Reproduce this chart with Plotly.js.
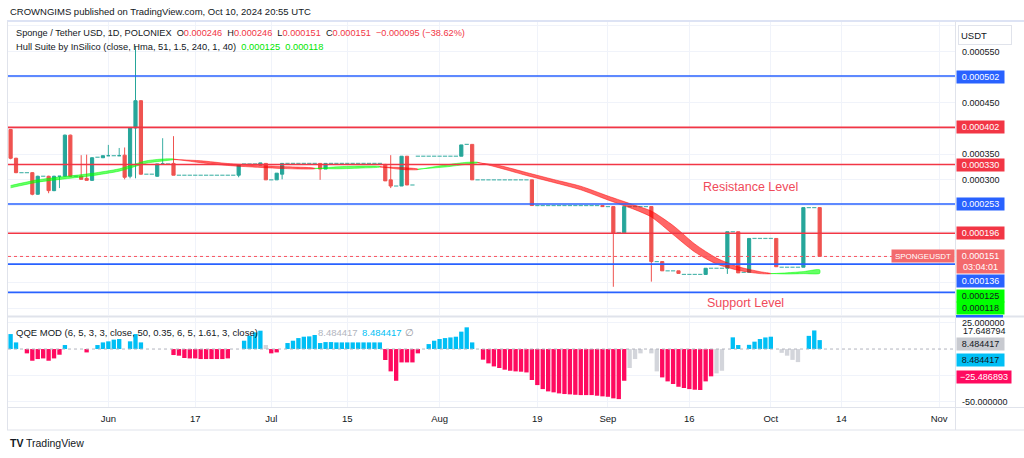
<!DOCTYPE html>
<html>
<head>
<meta charset="utf-8">
<script src="https://cdn.plot.ly/plotly-3.0.1.min.js"></script>
<style>
  html, body { margin: 0; padding: 0; background: #fff; }
  #chart { width: 1024px; height: 458px; }
</style>
</head>
<body>
<div id="chart"></div>
<script>
// daily bars from 14 May 2024, bar index 0 .. 149 (10 Oct)
const barTicks = [18, 34, 48, 62, 79, 97, 110, 125, 140, 153, 171];
const barTickLabels = ['Jun', '17', 'Jul', '15', 'Aug', '19', 'Sep', '16', 'Oct', '14', 'Nov'];

const open = [
  398e-6,342e-6,314e-6,314e-6,314e-6,272e-6,307e-6,307e-6,279e-6,307e-6,
  307e-6,387e-6,307e-6,307e-6,303e-6,299e-6,344e-6,343e-6,347e-6,347e-6,
  347e-6,348e-6,307e-6,401e-6,454e-6,311e-6,311e-6,307e-6,331e-6,331e-6,
  332e-6,309e-6,309e-6,309e-6,309e-6,309e-6,309e-6,309e-6,309e-6,309e-6,
  309e-6,309e-6,309e-6,331e-6,331e-6,331e-6,329e-6,332e-6,300e-6,300e-6,
  311e-6,332e-6,332e-6,332e-6,332e-6,332e-6,332e-6,332e-6,321e-6,332e-6,
  332e-6,332e-6,332e-6,332e-6,332e-6,332e-6,332e-6,332e-6,332e-6,330e-6,
  300e-6,288e-6,288e-6,346e-6,290e-6,346e-6,346e-6,346e-6,346e-6,346e-6,
  346e-6,346e-6,346e-6,346e-6,369e-6,369e-6,300e-6,300e-6,300e-6,300e-6,
  300e-6,300e-6,300e-6,300e-6,300e-6,300e-6,300e-6,250e-6,250e-6,250e-6,
  250e-6,250e-6,250e-6,250e-6,250e-6,250e-6,250e-6,250e-6,250e-6,250e-6,
  248e-6,248e-6,197e-6,197e-6,248e-6,248e-6,248e-6,248e-6,248e-6,141e-6,
  141e-6,123e-6,123e-6,123e-6,116e-6,116e-6,116e-6,116e-6,116e-6,128e-6,
  128e-6,128e-6,128e-6,199e-6,199e-6,120e-6,120e-6,186e-6,186e-6,186e-6,
  186e-6,186e-6,130e-6,130e-6,130e-6,130e-6,130e-6,246e-6,246e-6,246e-6];
const high = [
  399e-6,343e-6,314e-6,314e-6,315e-6,308e-6,307e-6,308e-6,308e-6,307e-6,
  388e-6,388e-6,307e-6,348e-6,349e-6,344e-6,344e-6,347e-6,368e-6,347e-6,
  362e-6,363e-6,401e-6,560e-6,455e-6,311e-6,311e-6,331e-6,381e-6,331e-6,
  385e-6,309e-6,309e-6,309e-6,309e-6,309e-6,309e-6,309e-6,309e-6,309e-6,
  309e-6,309e-6,329e-6,331e-6,331e-6,331e-6,333e-6,332e-6,300e-6,313e-6,
  332e-6,332e-6,332e-6,332e-6,332e-6,332e-6,332e-6,332e-6,332e-6,332e-6,
  332e-6,332e-6,332e-6,332e-6,332e-6,332e-6,332e-6,332e-6,332e-6,331e-6,
  348e-6,288e-6,346e-6,346e-6,290e-6,346e-6,346e-6,346e-6,346e-6,346e-6,
  346e-6,346e-6,346e-6,368e-6,369e-6,369e-6,300e-6,300e-6,300e-6,300e-6,
  300e-6,300e-6,300e-6,300e-6,300e-6,300e-6,300e-6,250e-6,250e-6,250e-6,
  250e-6,250e-6,250e-6,250e-6,250e-6,250e-6,250e-6,250e-6,250e-6,250e-6,
  248e-6,248e-6,197e-6,248e-6,248e-6,248e-6,248e-6,248e-6,248e-6,141e-6,
  141e-6,123e-6,123e-6,123e-6,116e-6,116e-6,116e-6,116e-6,128e-6,128e-6,
  128e-6,128e-6,199e-6,199e-6,199e-6,120e-6,186e-6,186e-6,186e-6,186e-6,
  186e-6,186e-6,130e-6,130e-6,130e-6,130e-6,246e-6,246e-6,246e-6,246e-6];
const low = [
  340e-6,313e-6,314e-6,314e-6,270e-6,271e-6,307e-6,274e-6,278e-6,284e-6,
  306e-6,306e-6,307e-6,301e-6,299e-6,298e-6,344e-6,343e-6,347e-6,347e-6,
  347e-6,301e-6,303e-6,303e-6,310e-6,311e-6,311e-6,306e-6,331e-6,331e-6,
  309e-6,309e-6,309e-6,309e-6,309e-6,309e-6,309e-6,309e-6,309e-6,309e-6,
  309e-6,309e-6,305e-6,331e-6,331e-6,331e-6,329e-6,300e-6,300e-6,300e-6,
  301e-6,332e-6,332e-6,332e-6,332e-6,332e-6,332e-6,300e-6,321e-6,332e-6,
  332e-6,332e-6,332e-6,332e-6,332e-6,332e-6,332e-6,332e-6,332e-6,298e-6,
  284e-6,288e-6,288e-6,290e-6,290e-6,346e-6,346e-6,346e-6,346e-6,346e-6,
  346e-6,346e-6,346e-6,346e-6,369e-6,300e-6,300e-6,300e-6,300e-6,300e-6,
  300e-6,300e-6,300e-6,300e-6,300e-6,300e-6,250e-6,250e-6,250e-6,250e-6,
  250e-6,250e-6,250e-6,250e-6,250e-6,250e-6,250e-6,250e-6,250e-6,248e-6,
  248e-6,92e-6,197e-6,197e-6,248e-6,248e-6,248e-6,248e-6,102e-6,141e-6,
  123e-6,123e-6,123e-6,118e-6,116e-6,116e-6,116e-6,116e-6,116e-6,128e-6,
  128e-6,128e-6,117e-6,199e-6,119e-6,120e-6,120e-6,186e-6,186e-6,186e-6,
  186e-6,131e-6,130e-6,130e-6,130e-6,130e-6,130e-6,246e-6,246e-6,151e-6];
const close = [
  342e-6,314e-6,314e-6,314e-6,272e-6,307e-6,307e-6,279e-6,307e-6,307e-6,
  387e-6,307e-6,307e-6,301e-6,299e-6,343e-6,344e-6,347e-6,347e-6,347e-6,
  347e-6,305e-6,401e-6,454e-6,311e-6,311e-6,311e-6,331e-6,331e-6,331e-6,
  309e-6,309e-6,309e-6,309e-6,309e-6,309e-6,309e-6,309e-6,309e-6,309e-6,
  309e-6,309e-6,329e-6,331e-6,331e-6,331e-6,333e-6,300e-6,300e-6,313e-6,
  332e-6,332e-6,332e-6,332e-6,332e-6,332e-6,332e-6,321e-6,332e-6,332e-6,
  332e-6,332e-6,332e-6,332e-6,332e-6,332e-6,332e-6,332e-6,332e-6,298e-6,
  288e-6,288e-6,346e-6,290e-6,290e-6,346e-6,346e-6,346e-6,346e-6,346e-6,
  346e-6,346e-6,346e-6,368e-6,369e-6,300e-6,300e-6,300e-6,300e-6,300e-6,
  300e-6,300e-6,300e-6,300e-6,300e-6,300e-6,250e-6,250e-6,250e-6,250e-6,
  250e-6,250e-6,250e-6,250e-6,250e-6,250e-6,250e-6,250e-6,250e-6,248e-6,
  248e-6,197e-6,197e-6,248e-6,248e-6,248e-6,248e-6,248e-6,141e-6,141e-6,
  123e-6,123e-6,123e-6,118e-6,116e-6,116e-6,116e-6,116e-6,128e-6,128e-6,
  128e-6,128e-6,199e-6,199e-6,119e-6,120e-6,186e-6,186e-6,186e-6,186e-6,
  186e-6,131e-6,130e-6,130e-6,130e-6,130e-6,246e-6,246e-6,246e-6,151e-6];

// Hull Suite band: hull and its 2-bar lag, sampled on these bars
const hullDay = [0,5,10,15,20,25,28,30,35,40,45,50,56,60,65,68,72,75,80,84,86,90,95,100,105,110,115,118,122,126,130,134,138,140,143,146,149];
const hullA = [289.0e-6,300.1e-6,306.5e-6,312.7e-6,321.5e-6,337.0e-6,340.5e-6,340.5e-6,333.4e-6,328.0e-6,324.7e-6,322.1e-6,321.6e-6,325.3e-6,326.9e-6,325.9e-6,320.2e-6,320.0e-6,328.8e-6,334.1e-6,334.2e-6,323.3e-6,308.5e-6,294.9e-6,280.6e-6,260.8e-6,241.9e-6,227.7e-6,193.6e-6,159.6e-6,136.3e-6,124.0e-6,117.6e-6,117.4e-6,119.2e-6,121.5e-6,125.0e-6];
const hullB = [284.4e-6,295.5e-6,301.9e-6,308.1e-6,316.9e-6,332.4e-6,336.7e-6,339.5e-6,337.2e-6,331.8e-6,328.5e-6,325.9e-6,322.6e-6,321.5e-6,323.1e-6,324.9e-6,324.0e-6,321.0e-6,325.0e-6,330.3e-6,333.2e-6,327.9e-6,314.3e-6,300.7e-6,287.6e-6,268.6e-6,250.5e-6,239.3e-6,211.2e-6,175.2e-6,147.9e-6,131.0e-6,121.4e-6,117.8e-6,116.8e-6,117.5e-6,118.0e-6];
const hullTurns = [0, 30, 56, 68, 75, 86, 140, 149];   // green, red, green, ...

const resistanceLevels = [402e-6, 330e-6, 196e-6];
const supportLevels = [502e-6, 253e-6, 136e-6, 81e-6];

// QQE MOD histogram, one value per bar
const qqe = [
  14.2, 6.3, null, -4.1, -11.1, -9.5, -8.9, -11.1, -8.9, -5.4,
  3.8, null, null, null, -3.2, null, 3.8, 6.3, 7.3, 8.9,
  9.5, null, 7.3, 14.2, 6.3, null, null, null, null, null,
  -5.7, -6.3, -8.5, -8.9, -8.9, -9.5, -9.5, -9.5, -9.5, -9.5,
  -8.9, null, null, 7.9, 12.7, 15.8, 17.4, 3.8, -4.1, -3.2,
  null, 5.7, 7.9, 10.4, 11.7, 12, 13.3, 5.7, 6.6, 6.6,
  6.3, 6.3, 6.3, 6.3, 6.3, 6.3, 6.3, 6.3, 6.3, -10.4,
  -21.2, -30.1, -12.7, -12.7, -12.7, -4.1, null, 4.7, 7.9, 9.5,
  10.4, 11, 11.7, 16.5, 20.6, 6.3, null, -10.1, -13.6, -16.5,
  -18, -19.6, -20.6, -21.2, -21.5, -22.2, -29.4, -34.2, -38, -40.2,
  -41.1, -42.1, -42.7, -43, -43.4, -43.7, -43.7, -43.7, -44.3, -44.9,
  -45.3, -46.8, -47.5, -30.1, -18, -9.5, -4.1, null, -4.1, -21.2,
  -26.9, -30.7, -33.2, -35.8, -37, -38, -38.6, -38.9, -30.7, -25.9,
  -23.1, -20.6, null, 11.1, 3.8, null, 4, 7, 9.5, 11,
  11.7, null, -3.6, -6.3, -10.3, -12.4, null, 12.5, 17.65, 8.484417];
const qqeGrey = [47, 114, 115, 116, 118, 119, 130, 131, 142, 143, 144, 145];
const qqeLineValues = [17.648794, -25.486893];

const priceTicks = [600e-6, 550e-6, 500e-6, 450e-6, 400e-6, 350e-6, 300e-6, 250e-6, 200e-6, 150e-6, 100e-6, 50e-6];
const priceTickText = ['', '0.000550', '', '0.000450', '', '0.000350', '0.000300', '', '', '', '', ''];
const qqeTicks = [25, -25, -50];
const qqeTickText = ['25.000000', '', '-50.000000'];

const FONT = '"Liberation Sans", Arial, sans-serif';
const INK = '#131722';
const TEAL = '#26a69a', CRED = '#ef5350';
const BLUE = '#2962ff', LRED = '#f23645';

// plot area in page pixels, for placing the TradingView furniture
const L = 8, T = 22, W = 947, H = 385;
const px = x => (x - L) / W;
const py = y => (T + H - y) / H;

function drawChart() {
  const bars = open.map((_, i) => i);
  const real = bars.filter(i => open[i] !== close[i]);
  // flat bars: dojis that still have a wick, and bare single-price bars
  const doji = bars.filter(i => open[i] === close[i] && high[i] !== low[i]);
  const bare = bars.filter(i => open[i] === close[i] && high[i] === low[i]);
  const pick = (arr, idx) => idx.map(i => arr[i]);
  const last = open.length - 1;
  const flatTeal = 'rgba(38,166,154,0.9)';

  const traces = [
    {
      type: 'candlestick', x: real,
      open: pick(open, real), high: pick(high, real), low: pick(low, real), close: pick(close, real),
      increasing: { line: { color: TEAL, width: 1 }, fillcolor: TEAL },
      decreasing: { line: { color: CRED, width: 1 }, fillcolor: CRED },
      whiskerwidth: 0, hoverinfo: 'skip'
    },
    {
      type: 'candlestick', x: doji,
      open: pick(open, doji), high: pick(high, doji), low: pick(low, doji), close: pick(close, doji),
      increasing: { line: { color: flatTeal, width: 1 }, fillcolor: TEAL },
      decreasing: { line: { color: flatTeal, width: 1 }, fillcolor: TEAL },
      whiskerwidth: 0, hoverinfo: 'skip'
    },
    {
      type: 'scatter', mode: 'markers', x: bare, y: pick(close, bare),
      marker: { symbol: 'line-ew', size: 3, line: { color: 'rgba(38,166,154,0.8)', width: 1.2 } },
      hoverinfo: 'skip'
    }
  ];

  for (let k = 0; k < hullTurns.length - 1; k++) {
    const s = hullDay.indexOf(hullTurns[k]);
    const e = hullDay.indexOf(hullTurns[k + 1]);
    const xs = hullDay.slice(s, e + 1);
    const col = k % 2 === 0 ? 'rgba(0,255,0,0.6)' : 'rgba(255,0,0,0.6)';
    traces.push({
      type: 'scatter', mode: 'lines',
      x: xs.concat(xs.slice().reverse()),
      y: hullA.slice(s, e + 1).concat(hullB.slice(s, e + 1).reverse()),
      fill: 'toself', fillcolor: col,
      line: { color: col, width: 0.8, shape: 'spline', smoothing: 0.7 },
      hoverinfo: 'skip'
    });
  }

  traces.push({
    type: 'bar', x: bars, y: qqe, yaxis: 'y2', width: 0.8,
    marker: {
      color: qqe.map((v, i) => qqeGrey.includes(i) ? '#d3d5db' : (v >= 0 ? '#00bff5' : '#ff0a5f')),
      line: { width: 0 }
    },
    hoverinfo: 'skip'
  });

  const shapes = [];
  supportLevels.forEach(v => shapes.push({ type: 'line', xref: 'paper', yref: 'y', x0: 0, x1: 1, y0: v, y1: v, line: { color: BLUE, width: 1.6 } }));
  resistanceLevels.forEach(v => shapes.push({ type: 'line', xref: 'paper', yref: 'y', x0: 0, x1: 1, y0: v, y1: v, line: { color: LRED, width: 1.6 } }));
  shapes.push({ type: 'line', xref: 'paper', yref: 'y', x0: 0, x1: 1, y0: close[last], y1: close[last], line: { color: '#f7525f', width: 1, dash: 'dot' } });
  shapes.push({ type: 'line', xref: 'paper', yref: 'y2', x0: 0, x1: 1, y0: 0, y1: 0, line: { color: '#b2b5be', width: 1, dash: 'dot' } });

  // TradingView frame
  const frame = '#e0e3eb';
  const hline = (y, x0, x1, c, w) => ({ type: 'line', xref: 'paper', yref: 'paper', x0: px(x0), x1: px(x1), y0: py(y), y1: py(y), line: { color: c, width: w } });
  const vline = (x, y0, y1, c, w) => ({ type: 'line', xref: 'paper', yref: 'paper', x0: px(x), x1: px(x), y0: py(y0), y1: py(y1), line: { color: c, width: w } });
  shapes.push(hline(21, 7, 1024, '#d2daf0', 1.5));
  shapes.push(vline(7.5, 21, 430, frame, 1));
  shapes.push(vline(955.5, 21, 430, frame, 1));
  shapes.push(hline(316.5, 7, 1024, frame, 2));
  shapes.push(hline(407.5, 7, 1024, frame, 1));
  shapes.push(hline(430, 7, 1024, frame, 1));
  shapes.push({ type: 'rect', xref: 'paper', yref: 'paper', x0: px(956), x1: px(1003), y0: py(317.5), y1: py(315), fillcolor: BLUE, line: { width: 0 } });

  const ann = [];
  const text = (x, y, t, size, color, anchor) => ann.push({
    xref: 'paper', yref: 'paper', x: px(x), y: py(y), xanchor: anchor || 'left', yanchor: 'middle',
    text: t, showarrow: false, font: { family: FONT, size: size, color: color || INK }
  });
  const f6 = v => v.toFixed(6);
  const sp = '\u00a0\u00a0';
  const red = t => '<span style="color:#f23645">' + t + '</span>';
  const green = t => '<span style="color:#00e600">' + t + '</span>';

  text(8, 12, 'CROWNGIMS published on TradingView.com, Oct 10, 2024 20:55 UTC', 9.5);
  const chg = close[last] - close[last - 1];
  const pct = chg / close[last - 1] * 100;
  text(14, 33.5, 'Sponge / Tether USD, 1D, POLONIEX' + sp + 'O' + red(f6(open[last])) + sp + 'H' + red(f6(high[last])) +
    sp + 'L' + red(f6(low[last])) + sp + 'C' + red(f6(close[last])) + sp +
    red('\u2212' + f6(-chg) + ' (\u2212' + (-pct).toFixed(2) + '%)'), 9.2);
  text(14, 46.7, 'Hull Suite by InSilico (close, Hma, 51, 1.5, 240, 1, 40)' + sp +
    green(f6(hullA[hullA.length - 1])) + sp + green(f6(hullB[hullB.length - 1])), 9.3);
  text(14, 332.7, 'QQE MOD (6, 5, 3, 3, close, 50, 0.35, 6, 5, 1.61, 3, close)', 9.5);
  text(316, 332.7, f6(qqe[last]), 9.5, '#b2b5be');
  text(360, 332.7, f6(qqe[last]), 9.5, '#00bff5');
  text(403, 332.7, '\u2205', 10, '#9598a1');
  text(750, 186.7, 'Resistance Level', 12.5, '#f04a5a', 'center');
  text(745, 303, 'Support Level', 12.5, '#f04a5a', 'center');
  text(8, 443, '<b>TV</b>', 10.5, INK);
  text(24, 443, 'TradingView', 10.5, INK);

  // price scale labels
  const box = (yref, v, shift, bg, color, t, w, h) => ann.push({
    xref: 'paper', yref: yref, x: px(956), y: v, yshift: shift, xanchor: 'left', yanchor: 'middle',
    text: t, showarrow: false, bgcolor: bg, borderpad: 1, width: w || 45, height: h || 10,
    font: { family: FONT, size: 9, color: color || '#fff' }
  });
  box('y', supportLevels[0], -1, BLUE, '#fff', f6(supportLevels[0]));
  box('y', resistanceLevels[0], 0, LRED, '#fff', f6(resistanceLevels[0]));
  box('y', resistanceLevels[1], -0.5, LRED, '#fff', f6(resistanceLevels[1]));
  box('y', supportLevels[1], 0, BLUE, '#fff', f6(supportLevels[1]));
  box('y', resistanceLevels[2], 0, LRED, '#fff', f6(resistanceLevels[2]));
  box('y', close[last], -5.5, '#f36a6d', '#fff', f6(close[last]) + '<br>03:04:01', 45, 21);
  box('y', supportLevels[2], -17, BLUE, '#fff', f6(supportLevels[2]));
  box('y', hullA[hullA.length - 1], -26, '#00ff00', INK, f6(hullA[hullA.length - 1]));
  box('y', hullB[hullB.length - 1], -35, '#00ff00', INK, f6(hullB[hullB.length - 1]));
  ann.push({
    xref: 'paper', yref: 'y', x: px(955), y: close[last], xanchor: 'right', yanchor: 'middle',
    text: 'SPONGEUSDT', showarrow: false, bgcolor: '#f36a6d', borderpad: 1, width: 60, height: 10,
    font: { family: FONT, size: 8, color: '#fff' }
  });
  ann.push({
    xref: 'paper', yref: 'paper', x: px(958), y: py(35), xanchor: 'left', yanchor: 'middle',
    text: 'USDT', align: 'left', showarrow: false, bgcolor: '#fff', bordercolor: '#e0e3eb', borderwidth: 1,
    borderpad: 2, width: 48, height: 14, font: { family: FONT, size: 9.5, color: INK }
  });
  ann.push({
    xref: 'paper', yref: 'y2', x: px(961), y: qqeLineValues[0], yshift: -1, xanchor: 'left', yanchor: 'middle',
    text: f6(qqeLineValues[0]), showarrow: false, font: { family: FONT, size: 9, color: INK }
  });
  box('y2', qqe[last], -4, '#c8cad0', INK, f6(qqe[last]));
  box('y2', qqe[last], -20, '#00bff5', INK, f6(qqe[last]));
  box('y2', qqeLineValues[1], -1.5, '#ff0a5f', '#fff', '\u2212' + f6(-qqeLineValues[1]), 52);

  const layout = {
    width: 1024, height: 458,
    margin: { l: 8, r: 69, t: 22, b: 51 },
    paper_bgcolor: '#fff', plot_bgcolor: '#fff',
    showlegend: false, hovermode: false, dragmode: false,
    font: { family: FONT, size: 9, color: INK },
    boxgap: 0.22, boxgroupgap: 0.25,
    xaxis: {
      range: [-0.48, 173.92], anchor: 'y2',
      tickvals: barTicks, ticktext: barTickLabels, tickfont: { size: 9.5, color: INK },
      showgrid: true, gridcolor: '#f0f3fa', zeroline: false, showline: false, ticks: '',
      ticklabelstandoff: 4, rangeslider: { visible: false }
    },
    yaxis: {
      domain: [0.239, 1], range: [37.1e-6, 607.1e-6], side: 'right',
      tickvals: priceTicks, ticktext: priceTickText,
      showgrid: true, gridcolor: '#f0f3fa', zeroline: false, showline: false, ticks: '',
      ticklabelstandoff: 6
    },
    yaxis2: {
      domain: [0, 0.2312], range: [-55, 29.46], side: 'right',
      tickvals: qqeTicks, ticktext: qqeTickText,
      showgrid: true, gridcolor: '#f0f3fa', zeroline: false, showline: false, ticks: '',
      ticklabelstandoff: 6
    },
    shapes: shapes,
    annotations: ann
  };

  Plotly.newPlot('chart', traces, layout, { staticPlot: true, displayModeBar: false });
}

window.addEventListener('load', drawChart);
</script>
</body>
</html>
